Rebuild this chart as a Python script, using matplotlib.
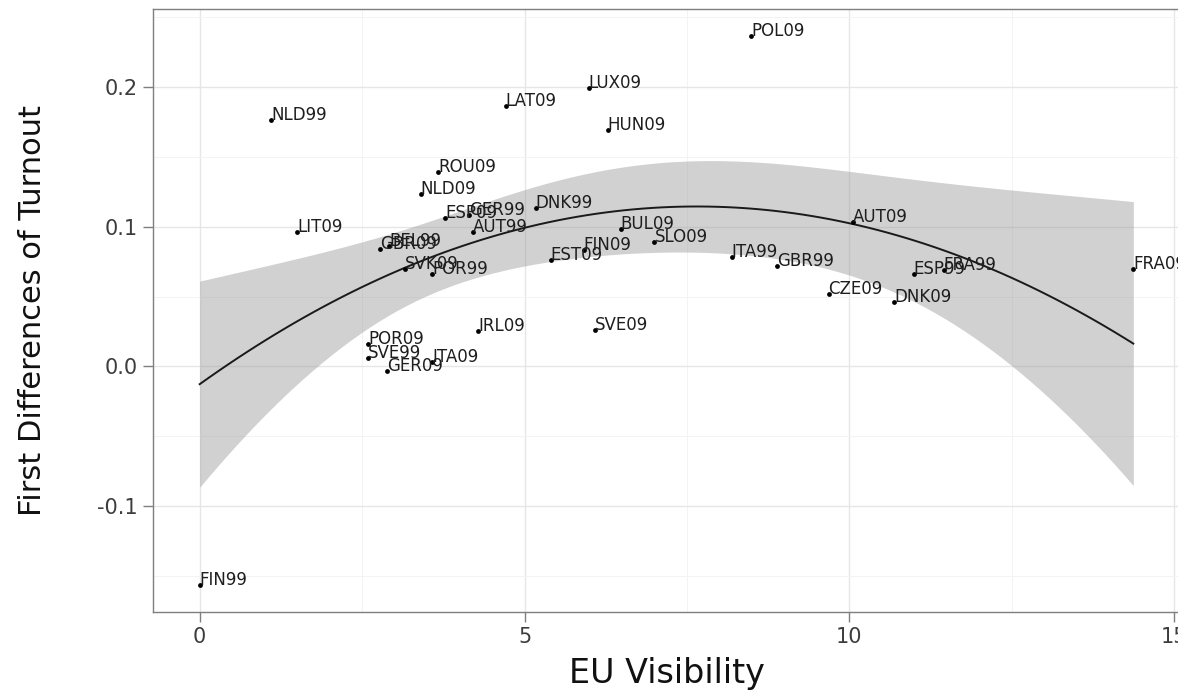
import numpy as np
import matplotlib
matplotlib.use("Agg")
from matplotlib import pyplot as plt
from matplotlib.ticker import MultipleLocator

# country-election labels, EU visibility (x) and first differences of turnout (y)
labels = ['FIN99', 'NLD99', 'LIT09', 'POR09', 'SVE99', 'GER09', 'GBR09', 'BEL99',
          'SVK09', 'NLD09', 'POR99', 'ITA09', 'ROU09', 'ESP09', 'GER99', 'DNK99',
          'AUT99', 'IRL09', 'LAT09', 'EST09', 'FIN09', 'LUX09', 'SVE09', 'HUN09',
          'BUL09', 'SLO09', 'ITA99', 'POL09', 'GBR99', 'CZE09', 'AUT09', 'DNK09',
          'ESP99', 'FRA99', 'FRA09']
visibility = [0.00, 1.10, 1.50, 2.59, 2.59, 2.89, 2.78, 2.92,
              3.16, 3.40, 3.58, 3.58, 3.67, 3.78, 4.14, 5.17,
              4.21, 4.29, 4.71, 5.40, 5.91, 5.99, 6.08, 6.28,
              6.48, 7.00, 8.19, 8.49, 8.89, 9.68, 10.05, 10.69,
              10.99, 11.45, 14.37]
turnout = [-0.156, 0.176, 0.096, 0.016, 0.006, -0.003, 0.084, 0.086,
           0.070, 0.123, 0.066, 0.003, 0.139, 0.106, 0.108, 0.113,
           0.096, 0.025, 0.186, 0.076, 0.083, 0.199, 0.026, 0.169,
           0.098, 0.089, 0.078, 0.236, 0.072, 0.052, 0.103, 0.046,
           0.066, 0.069, 0.070]

x_ticks = [0, 5, 10, 15]
y_ticks = [-0.1, 0.0, 0.1, 0.2]
y_tick_labels = ['-0.1', '0.0', '0.1', '0.2']

vis = np.array(visibility)
turn = np.array(turnout)

# quadratic lm smoother with 95% band (like geom_smooth(method="lm", y ~ poly(x, 2)))
X = np.column_stack([np.ones_like(vis), vis, vis ** 2])
beta = np.linalg.lstsq(X, turn, rcond=None)[0]
resid = turn - X @ beta
dof = len(vis) - 3
s2 = resid @ resid / dof
xtx_inv = np.linalg.inv(X.T @ X)
xs = np.linspace(vis.min(), vis.max(), 100)
Xs = np.column_stack([np.ones_like(xs), xs, xs ** 2])
fit = Xs @ beta
se = np.sqrt(np.einsum('ij,jk,ik->i', Xs, xtx_inv, Xs) * s2)
t975 = 2.035
lo = fit - t975 * se
hi = fit + t975 * se

fig = plt.figure(figsize=(11.78, 6.93), dpi=100)
ax = fig.add_axes([153 / 1178, 81 / 693, 1027 / 1178, 603 / 693])

# ggplot style 5% expansion
xr = vis.max() - vis.min()
ax.set_xlim(vis.min() - 0.05 * xr, vis.max() + 0.05 * xr)
ymin = min(turn.min(), lo.min())
ymax = max(turn.max(), hi.max())
yr = ymax - ymin
ax.set_ylim(ymin - 0.05 * yr, ymax + 0.05 * yr)

ax.set_xticks(x_ticks)
ax.set_yticks(y_ticks)
ax.set_yticklabels(y_tick_labels)
ax.xaxis.set_minor_locator(MultipleLocator(2.5))
ax.yaxis.set_minor_locator(MultipleLocator(0.05))
ax.grid(True, which='major', color='#e6e6e6', lw=1.0)
ax.grid(True, which='minor', color='#f3f3f3', lw=0.7)
ax.set_axisbelow(True)

ax.fill_between(xs, lo, hi, color='#999999', alpha=0.45, lw=0, zorder=2)
ax.plot(xs, fit, color='#1a1a1a', lw=1.4, zorder=3)
ax.scatter(vis, turn, s=12, color='black', zorder=4, lw=0)
for lab, x, y in zip(labels, visibility, turnout):
    ax.text(x, y, lab, ha='left', va='baseline', fontsize=12,
            color='#1e1e1e', zorder=5)

for sp in ax.spines.values():
    sp.set_color('#7f7f7f')
    sp.set_linewidth(1.0)
ax.tick_params(which='major', length=7, width=1, color='#7f7f7f',
               labelsize=15, labelcolor='#3d3d3d', pad=4)
ax.tick_params(which='minor', length=0)

ax.set_xlabel('EU Visibility', fontsize=24, color='#111111')
ax.xaxis.set_label_coords(0.5, -0.074)
ax.set_ylabel('First Differences of Turnout', fontsize=22, color='#111111')
ax.yaxis.set_label_coords(-0.103, 0.5)

fig.savefig('out.png', dpi=100)
